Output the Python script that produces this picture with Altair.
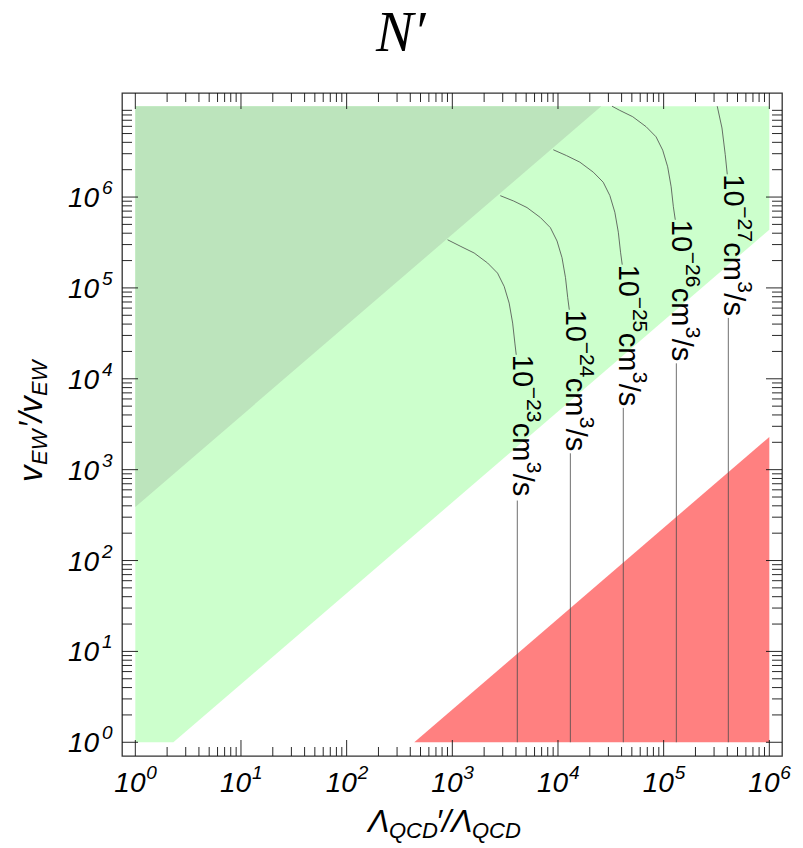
import altair as alt
import pandas as pd

W, H = 660, 663
PAD = {"left": 122, "top": 93, "right": 21, "bottom": 92}

# axis ranges (log10)
X_LOG_DOMAIN = [-0.126, 6.12]
Y_LOG_DOMAIN = [-0.151, 7.145]

# shaded regions, log10 coordinates
allowed_lx = [0.0, 0.36, 6.0]
allowed_ly_lo = [0.0, 0.0, 5.64]
allowed_ly_hi = [7.0, 7.0, 7.0]
excluded_lx = [0.0, 4.41]
excluded_ly_lo = [2.59, 7.0]
excluded_ly_hi = [7.0, 7.0]
red_lx = [2.64, 6.0]
red_ly_lo = [0.0, 0.0]
red_ly_hi = [0.0, 3.36]

# contour curves (log10 x, log10 y), upper part down to the label
contour_names = ["−23", "−24", "−25", "−26", "−27"]
contour_upper_lx = [
    [2.955, 3.081, 3.207, 3.334, 3.428, 3.491, 3.538, 3.571, 3.592, 3.605],
    [3.454, 3.581, 3.707, 3.834, 3.928, 3.991, 4.038, 4.071, 4.092, 4.107],
    [3.956, 4.081, 4.207, 4.334, 4.428, 4.491, 4.538, 4.571, 4.592, 4.608],
    [4.511, 4.581, 4.707, 4.834, 4.928, 4.991, 5.038, 5.071, 5.092, 5.110],
    [5.507, 5.552, 5.583, 5.602],
]
contour_upper_ly = [
    [5.53, 5.456, 5.384, 5.274, 5.163, 5.016, 4.833, 4.613, 4.393, 4.264],
    [6.015, 5.956, 5.884, 5.774, 5.663, 5.516, 5.333, 5.113, 4.893, 4.76],
    [6.52, 6.456, 6.384, 6.274, 6.163, 6.016, 5.833, 5.613, 5.393, 5.256],
    [7.0, 6.956, 6.884, 6.774, 6.663, 6.516, 6.333, 6.113, 5.893, 5.75],
    [7.0, 6.76, 6.466, 6.25],
]
contour_vertical_lx = [3.615, 4.117, 4.618, 5.12, 5.612]
label_top_ly = [4.264, 4.76, 5.256, 5.75, 6.25]
label_bottom_ly = [2.66, 3.18, 3.68, 4.17, 4.67]

x_major_exp = [0, 1, 2, 3, 4, 5, 6]
y_major_exp = [0, 1, 2, 3, 4, 5, 6]
minor_mult = [2, 3, 4, 5, 6, 7, 8, 9]

xs = alt.Scale(type="log", domain=[10 ** X_LOG_DOMAIN[0], 10 ** X_LOG_DOMAIN[1]], nice=False)
ys = alt.Scale(type="log", domain=[10 ** Y_LOG_DOMAIN[0], 10 ** Y_LOG_DOMAIN[1]], nice=False)


def X(f):
    return alt.X(f, type="quantitative", scale=xs, axis=None)


def Y(f):
    return alt.Y(f, type="quantitative", scale=ys, axis=None)


def region(lx, lo, hi, color):
    df = pd.DataFrame({"x": [10 ** v for v in lx],
                       "y": [10 ** v for v in lo],
                       "y2": [10 ** v for v in hi]})
    return alt.Chart(df).mark_area(color=color, opacity=1, interpolate="linear").encode(
        x=X("x"), y=Y("y"), y2="y2")


layers = [
    region(allowed_lx, allowed_ly_lo, allowed_ly_hi, "#ccffcc"),
    region(excluded_lx, excluded_ly_lo, excluded_ly_hi, "#bce4bc"),
    region(red_lx, red_ly_lo, red_ly_hi, "#ff8080"),
]

rows = []
for i, name in enumerate(contour_names):
    for k, (a, b) in enumerate(zip(contour_upper_lx[i], contour_upper_ly[i])):
        rows.append({"seg": f"{name}a", "o": k, "x": 10 ** a, "y": 10 ** b})
    rows.append({"seg": f"{name}b", "o": 0, "x": 10 ** contour_vertical_lx[i], "y": 10 ** label_bottom_ly[i]})
    rows.append({"seg": f"{name}b", "o": 1, "x": 10 ** contour_vertical_lx[i], "y": 1.0})
curves = pd.DataFrame(rows)
layers.append(alt.Chart(curves).mark_line(color="#4a4a4a", strokeWidth=0.8).encode(
    x=X("x"), y=Y("y"), detail="seg:N", order="o:Q"))

lab = pd.DataFrame({"x": [10 ** v for v in contour_vertical_lx],
                    "y": [10 ** v for v in label_top_ly],
                    "e": contour_names})
LF = "Liberation Sans"
pieces = [("10", 0, 4, 29), ("e", 32, -10, 21), ("cm", 68, 4, 29), ("3", 107, -10, 21), ("/s", 119, 4, 29)]
for txt_, dx, dy, fs in pieces:
    enc = dict(x=X("x"), y=Y("y"))
    if txt_ == "e":
        enc["text"] = alt.Text("e:N")
    else:
        enc["text"] = alt.value(txt_)
    layers.append(alt.Chart(lab).mark_text(angle=90, align="left", baseline="alphabetic",
                                           dx=dx, dy=dy, font=LF, fontSize=fs, color="black").encode(**enc))

# frame ticks (inward)
xmaj = pd.DataFrame({"v": [10 ** e for e in x_major_exp]})
xmin = pd.DataFrame({"v": [m * 10 ** e for e in x_major_exp[:-1] for m in minor_mult]})
ymaj = pd.DataFrame({"v": [10 ** e for e in y_major_exp]})
ymin = pd.DataFrame({"v": [m * 10 ** e for e in y_major_exp for m in minor_mult]})
TK = dict(color="#111", strokeWidth=0.9)
for df, L in [(xmaj, 16), (xmin, 9)]:
    layers.append(alt.Chart(df).mark_rule(**TK).encode(x=X("v"), y=alt.value(H), y2=alt.value(H - L)))
    layers.append(alt.Chart(df).mark_rule(**TK).encode(x=X("v"), y=alt.value(0), y2=alt.value(L)))
for df, L in [(ymaj, 16), (ymin, 10)]:
    layers.append(alt.Chart(df).mark_rule(**TK).encode(y=Y("v"), x=alt.value(0), x2=alt.value(L)))
    layers.append(alt.Chart(df).mark_rule(**TK).encode(y=Y("v"), x=alt.value(W), x2=alt.value(W - L)))

# tick labels
xl = pd.DataFrame({"v": [10 ** e for e in x_major_exp], "e": [str(e) for e in x_major_exp]})
yl = pd.DataFrame({"v": [10 ** e for e in y_major_exp], "e": [str(e) for e in y_major_exp]})
TF = dict(font=LF, fontStyle="italic", color="black", align="left", baseline="alphabetic")
layers.append(alt.Chart(xl).mark_text(dx=-21, fontSize=28, **TF).encode(
    x=X("v"), y=alt.value(H + 36), text=alt.value("10")))
layers.append(alt.Chart(xl).mark_text(dx=11, dy=-13, fontSize=19, **TF).encode(
    x=X("v"), y=alt.value(H + 36), text="e:N"))
layers.append(alt.Chart(yl).mark_text(dy=10, fontSize=28, **TF).encode(
    y=Y("v"), x=alt.value(-54), text=alt.value("10")))
layers.append(alt.Chart(yl).mark_text(dy=-3, fontSize=19, **TF).encode(
    y=Y("v"), x=alt.value(-20), text="e:N"))

# titles
one = pd.DataFrame({"a": [0]})


def txt(s, x, y, fs, angle=0, style="italic", font=LF):
    kw = dict(align="left", baseline="alphabetic", fontSize=fs, font=font,
              fontStyle=style, color="black")
    if angle:
        kw["angle"] = angle
    return alt.Chart(one).mark_text(**kw).encode(x=alt.value(x), y=alt.value(y), text=alt.value(s))


layers.append(txt("N′", 376 - 122, 51 - 93, 56, font="Liberation Serif"))
# x title  Λ_QCD′/Λ_QCD
layers += [
    txt("Λ", 368 - 122, 832 - 93, 32),
    txt("QCD", 389 - 122, 838 - 93, 22),
    txt("′/Λ", 436 - 122, 832 - 93, 32),
    txt("QCD", 472 - 122, 838 - 93, 22),
]
# y title  v_EW′/v_EW (rotated)
layers += [
    txt("v", 42 - 122, 482 - 93, 33, angle=270),
    txt("EW", 47 - 122, 465 - 93, 22, angle=270),
    txt("′/v", 42 - 122, 428 - 93, 33, angle=270),
    txt("EW", 47 - 122, 396 - 93, 22, angle=270),
]

chart = alt.layer(*layers).properties(
    width=W, height=H, autosize=alt.AutoSizeParams(type="none"), padding=PAD
).configure_view(stroke="#333", strokeWidth=1.3)

chart.save("out.html", embed_options={"renderer": "svg", "actions": False})
